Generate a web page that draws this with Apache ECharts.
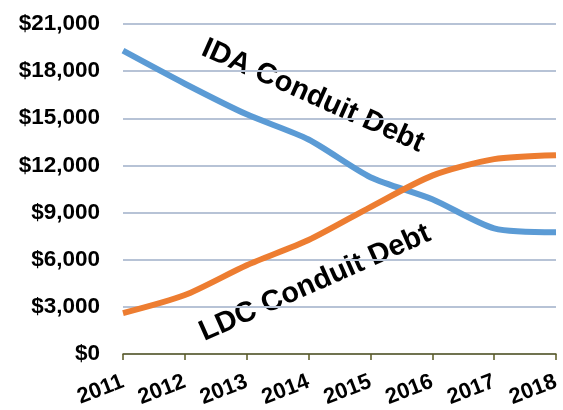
<!DOCTYPE html>
<html>
<head>
<meta charset="utf-8">
<script src="https://cdn.jsdelivr.net/npm/echarts@6/dist/echarts.min.js"></script>
<style>
  html, body { margin: 0; padding: 0; background: #fff; }
  #main { width: 563px; height: 410px; }
</style>
</head>
<body>
<div id="main"></div>
<script>
const years = ['2011', '2012', '2013', '2014', '2015', '2016', '2017', '2018'];
const idaDebt = [19300, 17200, 15250, 13650, 11250, 9850, 8000, 7750];
const ldcDebt = [2600, 3750, 5650, 7250, 9350, 11350, 12400, 12650];
const yTicks = [0, 3000, 6000, 9000, 12000, 15000, 18000, 21000];

const font = '"Liberation Sans", Arial, sans-serif';

const option = {
  animation: false,
  grid: { left: 123, right: 7, top: 24, bottom: 56 },
  xAxis: {
    type: 'category',
    data: years,
    boundaryGap: false,
    axisLine: { lineStyle: { color: '#5a5a25', width: 1.5 } },
    axisTick: { show: true, interval: 0, length: 6, lineStyle: { color: '#5a5a25', width: 1.5 } },
    axisLabel: {
      interval: 0,
      rotate: 21,
      margin: 27,
      color: '#000',
      fontSize: 22,
      fontWeight: 'bold',
      fontFamily: font
    },
    splitLine: { show: false }
  },
  yAxis: {
    type: 'value',
    min: yTicks[0],
    max: yTicks[yTicks.length - 1],
    interval: 3000,
    axisLine: { show: false },
    axisTick: { show: false },
    axisLabel: {
      margin: 23,
      color: '#000',
      fontSize: 22.5,
      fontWeight: 'bold',
      fontFamily: font,
      formatter: v => '$' + v.toLocaleString('en-US')
    },
    splitLine: { lineStyle: { color: '#b7c3d6', width: 2 } }
  },
  series: [
    {
      name: 'IDA Conduit Debt',
      type: 'line',
      data: idaDebt,
      smooth: 0.25,
      symbol: 'none',
      lineStyle: { color: '#5b9bd5', width: 6 }
    },
    {
      name: 'LDC Conduit Debt',
      type: 'line',
      data: ldcDebt,
      smooth: 0.25,
      symbol: 'none',
      lineStyle: { color: '#ed7d31', width: 6 }
    }
  ],
  graphic: [
    {
      type: 'text',
      x: 313, y: 96,
      rotation: -24 * Math.PI / 180,
      style: {
        text: 'IDA Conduit Debt',
        font: 'bold 29px ' + font,
        fill: '#000',
        align: 'center',
        verticalAlign: 'middle'
      }
    },
    {
      type: 'text',
      x: 315, y: 283,
      rotation: 24 * Math.PI / 180,
      style: {
        text: 'LDC Conduit Debt',
        font: 'bold 29px ' + font,
        fill: '#000',
        align: 'center',
        verticalAlign: 'middle'
      }
    }
  ]
};

const chart = echarts.init(document.getElementById('main'));
chart.setOption(option);
</script>
</body>
</html>
